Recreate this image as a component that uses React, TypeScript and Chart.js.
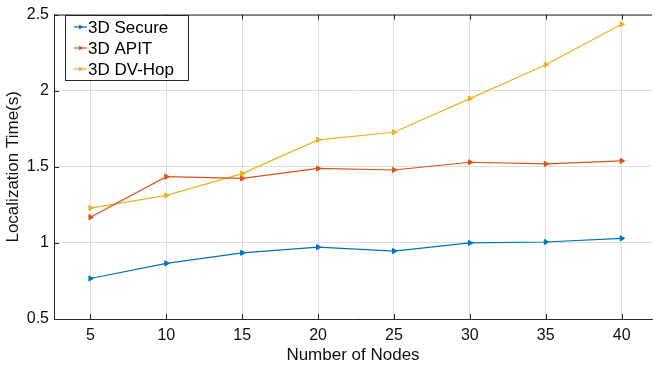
import React, { useEffect, useRef } from "react";
import { Chart, registerables } from "chart.js";

Chart.register(...registerables);

const nodes = [5, 10, 15, 20, 25, 30, 35, 40];
const secure = [0.766, 0.866, 0.935, 0.972, 0.946, 1.0, 1.006, 1.03];
const apit = [1.169, 1.435, 1.424, 1.489, 1.479, 1.53, 1.519, 1.539];
const dvhop = [1.229, 1.312, 1.455, 1.677, 1.727, 1.948, 2.171, 2.437];
const xTicks = [5, 10, 15, 20, 25, 30, 35, 40];
const yTicks = [0.5, 1, 1.5, 2, 2.5];
const seriesNames = ["3D Secure", "3D APIT", "3D DV-Hop"];
const seriesColors = ["#0072BD", "#D95319", "#EDB120"];

const FONT = "'Liberation Sans', Arial, Helvetica, sans-serif";
const AXIS = "#262626";

const decorPlugin = {
  id: "decor",
  afterDraw(chart: any) {
    const { ctx, chartArea } = chart;
    const { left, right, top, bottom } = chartArea;
    const xs = chart.scales.x;
    const ys = chart.scales.y;
    ctx.save();
    ctx.strokeStyle = AXIS;
    ctx.lineWidth = 1;
    // top border
    ctx.beginPath();
    ctx.moveTo(left, top + 0.5);
    ctx.lineTo(right, top + 0.5);
    ctx.stroke();
    // inward ticks
    const tl = 5;
    ctx.beginPath();
    xTicks.forEach((v) => {
      const px = Math.round(xs.getPixelForValue(v)) + 0.5;
      ctx.moveTo(px, bottom);
      ctx.lineTo(px, bottom - tl);
      ctx.moveTo(px, top);
      ctx.lineTo(px, top + tl);
    });
    yTicks.forEach((v) => {
      const py = Math.round(ys.getPixelForValue(v)) + 0.5;
      ctx.moveTo(left, py);
      ctx.lineTo(left + tl, py);
    });
    ctx.stroke();

    // legend
    const lx = 65, ly = 15, lw = 123, lh = 65;
    ctx.fillStyle = "#ffffff";
    ctx.fillRect(lx, ly, lw, lh);
    ctx.strokeStyle = AXIS;
    ctx.strokeRect(lx + 0.5, ly + 0.5, lw, lh);
    const rows = [27, 48, 69];
    ctx.font = `17px ${FONT}`;
    ctx.textBaseline = "middle";
    ctx.textAlign = "left";
    seriesNames.forEach((name, i) => {
      const y = rows[i];
      ctx.strokeStyle = seriesColors[i];
      ctx.lineWidth = 1.2;
      ctx.beginPath();
      ctx.moveTo(74, y);
      ctx.lineTo(87, y);
      ctx.stroke();
      // marker (right-pointing triangle)
      const cx = 80.5, r = 2.8;
      ctx.fillStyle = seriesColors[i];
      ctx.beginPath();
      ctx.moveTo(cx + r, y);
      ctx.lineTo(cx - r * 0.5, y - r * 0.87);
      ctx.lineTo(cx - r * 0.5, y + r * 0.87);
      ctx.closePath();
      ctx.fill();
      ctx.fillStyle = "#000000";
      ctx.fillText(name, 88, y + 1);
    });
    ctx.restore();
  },
};

export default function App() {
  const ref = useRef<HTMLCanvasElement | null>(null);
  useEffect(() => {
    if (!ref.current) return;
    const mk = (label: string, data: number[], color: string) => ({
      label,
      data: nodes.map((x, i) => ({ x, y: data[i] })),
      borderColor: color,
      backgroundColor: color,
      borderWidth: 1.2,
      pointStyle: "triangle",
      rotation: 90,
      pointRadius: 3,
      pointBorderWidth: 1,
      pointHoverRadius: 3,
      tension: 0,
    });
    const chart = new Chart(ref.current, {
      type: "line",
      data: {
        datasets: [
          mk(seriesNames[0], secure, seriesColors[0]),
          mk(seriesNames[1], apit, seriesColors[1]),
          mk(seriesNames[2], dvhop, seriesColors[2]),
        ],
      },
      options: {
        responsive: false,
        animation: false,
        layout: { padding: { top: 11, right: 0, left: 0, bottom: 0 } },
        plugins: { legend: { display: false }, tooltip: { enabled: false } },
        scales: {
          x: {
            type: "linear",
            min: 2.6,
            max: 42,
            afterBuildTicks: (s: any) => {
              s.ticks = xTicks.map((v) => ({ value: v }));
            },
            afterFit: (s: any) => {
              s.height = 47;
            },
            grid: { color: "#dedede", drawTicks: false, lineWidth: 1 },
            border: { color: AXIS, width: 1 },
            ticks: {
              color: "#111111",
              font: { family: FONT, size: 16 },
              padding: 7,
              maxRotation: 0,
              callback: (v: any) => String(v),
            },
            title: {
              display: true,
              text: "Number of Nodes",
              color: "#111111",
              font: { family: FONT, size: 17 },
              padding: { top: 0, bottom: 0 },
            },
          },
          y: {
            type: "linear",
            min: 0.5,
            max: 2.5,
            afterBuildTicks: (s: any) => {
              s.ticks = yTicks.map((v) => ({ value: v }));
            },
            afterFit: (s: any) => {
              s.width = 54;
            },
            grid: { color: "#dedede", drawTicks: false, lineWidth: 1 },
            border: { color: AXIS, width: 1 },
            ticks: {
              color: "#111111",
              font: { family: FONT, size: 16 },
              padding: 5,
              callback: (v: any) => String(v),
            },
            title: {
              display: true,
              text: "Localization Time(s)",
              color: "#111111",
              font: { family: FONT, size: 17 },
              padding: { top: 3, bottom: 0 },
            },
          },
        },
      },
      plugins: [decorPlugin],
    } as any);
    return () => chart.destroy();
  }, []);
  return (
    <div style={{ position: "fixed", left: 0, top: 0, width: 656, height: 366, background: "#fff" }}>
      <canvas ref={ref} width={656} height={366} style={{ display: "block" }} />
    </div>
  );
}
